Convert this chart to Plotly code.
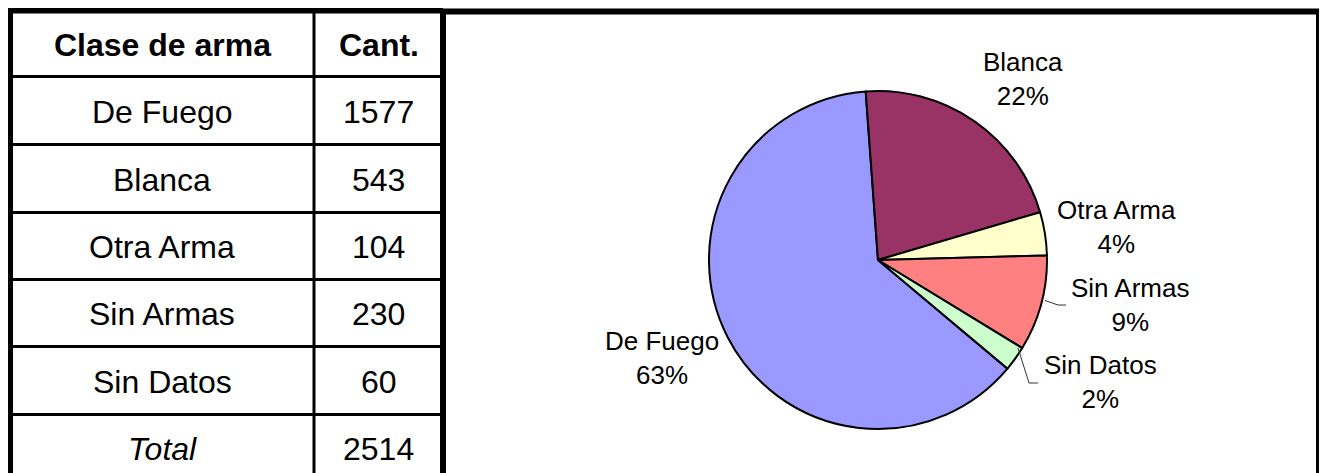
import plotly.graph_objects as go

# ---- data ----
categories = ["De Fuego", "Blanca", "Otra Arma", "Sin Armas", "Sin Datos"]
counts = [1577, 543, 104, 230, 60]
total_label = "Total"
header_labels = ["Clase de arma", "Cant."]
slice_colors = ["#9999FF", "#993366", "#FFFFCC", "#FF8080", "#CCFFCC"]

# page has an 8px body margin; work in screenshot pixel coordinates
OFF = 8
WIN_W, WIN_H = 1327, 473
W, H = WIN_W - OFF, WIN_H - OFF
FONT = "Liberation Sans, Arial, sans-serif"
total = sum(counts)

def px_x(x):
    return (x - OFF) / W

def px_y(y):
    return 1 - (y - OFF) / H

fig = go.Figure()

# ---- pie ----
cx, cy, r = 878, 260, 169
fig.add_trace(go.Pie(
    labels=categories, values=counts, sort=False, direction="clockwise",
    rotation=130, textinfo="none", hoverinfo="label+percent",
    marker=dict(colors=slice_colors, line=dict(color="black", width=2)),
    domain=dict(x=[px_x(cx - r), px_x(cx + r)], y=[px_y(cy + r), px_y(cy - r)]),
    showlegend=False,
))

shapes = []
annotations = []

# ---- table grid ----
left, col_div, right = 10, 314, 443
top = 10.5
row_lines = [76.5, 144.5, 212.5, 279.5, 346.5, 414.5]
bottom = 490
for yl in row_lines:
    shapes.append(dict(type="line", x0=left, x1=right, y0=yl, y1=yl,
                       line=dict(color="black", width=3), xref="x", yref="y"))
shapes.append(dict(type="line", x0=col_div, x1=col_div, y0=top, y1=bottom,
                   line=dict(color="black", width=3), xref="x", yref="y"))
chart_right = 1319
for (x0, y0, x1, y1) in [
    (left - 3, top, right, top), (left, top, left, bottom), (right, top, right, bottom),
    (right, 11.5, chart_right + 3, 11.5), (chart_right, 11.5, chart_right, bottom),
]:
    shapes.append(dict(type="line", x0=x0, x1=x1, y0=y0, y1=y1,
                       line=dict(color="black", width=6), xref="x", yref="y"))

c1 = (left + col_div) / 2
c2 = (col_div + right) / 2
annotations.append(dict(x=c1, y=(top + row_lines[0]) / 2 + 1, text="<b>%s</b>" % header_labels[0]))
annotations.append(dict(x=c2, y=(top + row_lines[0]) / 2 + 1, text="<b>%s</b>" % header_labels[1]))
bounds = row_lines + [482]
for i, (cat, v) in enumerate(zip(categories, counts)):
    yc = (bounds[i] + bounds[i + 1]) / 2 + 1
    annotations.append(dict(x=c1, y=yc, text=cat))
    annotations.append(dict(x=c2, y=yc, text=str(v)))
yc = (bounds[5] + bounds[6]) / 2 + 1
annotations.append(dict(x=c1, y=yc, text="<i>%s</i>" % total_label))
annotations.append(dict(x=c2, y=yc, text=str(total)))
for a in annotations:
    a.update(xref="x", yref="y", showarrow=False, xanchor="center", yanchor="middle",
             font=dict(family=FONT, size=32, color="black"))

# ---- pie labels ----
label_pos = {
    "De Fuego": (662, 358),
    "Blanca": (1023, 78.5),
    "Otra Arma": (1116, 227),
    "Sin Armas": (1130, 304.5),
    "Sin Datos": (1100, 382),
}
for cat, v in zip(categories, counts):
    pct = round(v / total * 100)
    x, y = label_pos[cat]
    annotations.append(dict(x=x, y=y, xref="x", yref="y", showarrow=False,
                            text="%s<br>%d%%" % (cat, pct), xanchor="center", yanchor="middle",
                            font=dict(family=FONT, size=26, color="black")))

shapes.append(dict(type="path", path="M 1045 300.5 L 1058 305 L 1066 305",
                   line=dict(color="#333333", width=1), xref="x", yref="y"))
shapes.append(dict(type="path", path="M 1018 348 L 1029 383 L 1038 383",
                   line=dict(color="#333333", width=1), xref="x", yref="y"))

fig.update_layout(
    width=W, height=H, margin=dict(l=0, r=0, t=0, b=0),
    paper_bgcolor="white", plot_bgcolor="white",
    xaxis=dict(range=[OFF, WIN_W], visible=False, fixedrange=True, domain=[0, 1]),
    yaxis=dict(range=[WIN_H, OFF], visible=False, fixedrange=True, domain=[0, 1]),
    shapes=shapes, annotations=annotations, showlegend=False,
)

fig.write_html("out.html")
